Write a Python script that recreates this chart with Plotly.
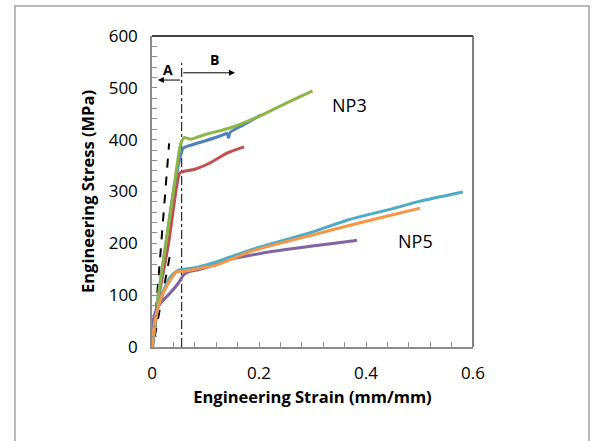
import plotly.graph_objects as go

# ---- data ----
np3_green_x = [0, 0.004, 0.012, 0.026, 0.04, 0.052, 0.056, 0.06, 0.065, 0.072, 0.1, 0.15, 0.2, 0.25, 0.3]
np3_green_y = [0, 30, 100, 200, 300, 385, 398, 404, 403, 401, 410, 424, 445, 470, 494]
np3_blue_x = [0, 0.004, 0.012, 0.026, 0.04, 0.054, 0.058, 0.065, 0.084, 0.1, 0.13, 0.14, 0.143, 0.146, 0.17, 0.204]
np3_blue_y = [0, 30, 100, 200, 300, 372, 383, 387, 393, 398, 408, 412, 404, 414, 428, 448]
np3_red_x = [0, 0.005, 0.015, 0.031, 0.046, 0.052, 0.06, 0.08, 0.108, 0.14, 0.172]
np3_red_y = [0, 35, 110, 200, 309, 336, 339, 343, 355, 374, 386]

np5_teal_x = [0, 0.004, 0.01, 0.018, 0.034, 0.046, 0.052, 0.06, 0.08, 0.1, 0.12, 0.15, 0.183, 0.25, 0.3, 0.366, 0.45, 0.5, 0.581]
np5_teal_y = [0, 40, 72, 100, 135, 146, 149, 150, 153, 158, 164, 175, 187, 207, 222, 245, 267, 281, 299]
np5_orange_x = [0, 0.004, 0.01, 0.018, 0.034, 0.046, 0.06, 0.09, 0.12, 0.15, 0.183, 0.25, 0.3, 0.37, 0.45, 0.501]
np5_orange_y = [0, 40, 70, 97, 129, 145, 146, 152, 158, 170, 184, 203, 216, 235, 255, 268]
np5_purple_x = [0, 0.0025, 0.008, 0.018, 0.034, 0.049, 0.059, 0.068, 0.09, 0.12, 0.15, 0.2, 0.25, 0.3, 0.37, 0.383]
np5_purple_y = [0, 52, 72, 87, 104, 123, 139, 145, 150, 160, 170, 180, 188, 195, 204, 206]

dash1_x = [0.002, 0.032]
dash1_y = [0, 393]
dash2_x = [0.005, 0.035]
dash2_y = [20, 185]
boundary_x = [0.0555, 0.0555]
boundary_y = [0, 548]

x_ticks = [0, 0.2, 0.4, 0.6]
x_ticklabels = ["0", "0.2", "0.4", "0.6"]
y_ticks = [0, 100, 200, 300, 400, 500, 600]

FONT = "Open Sans"

fig = go.Figure()

def add_line(x, y, color, width=3, dash=None, shape="linear"):
    fig.add_trace(go.Scatter(x=x, y=y, mode="lines",
                             line=dict(color=color, width=width, dash=dash, shape=shape,
                                       smoothing=0.6 if shape == "spline" else None),
                             showlegend=False, hoverinfo="skip"))

add_line(dash1_x, dash1_y, "black", 2, "dash")
add_line(dash2_x, dash2_y, "black", 2, "dash")
add_line(boundary_x, boundary_y, "black", 1, "dashdot")

add_line(np3_red_x, np3_red_y, "#C0504D", shape="spline")
add_line(np3_blue_x, np3_blue_y, "#4F81BD", shape="spline")
add_line(np3_green_x, np3_green_y, "#8DB548", shape="spline")
add_line(np5_purple_x, np5_purple_y, "#8064A2", shape="spline")
add_line(np5_teal_x, np5_teal_y, "#4BACC6", shape="spline")
add_line(np5_orange_x, np5_orange_y, "#F79646", shape="spline")

# arrows A and B
fig.add_annotation(x=0.011, y=515, ax=0.0555, ay=515, xref="x", yref="y", axref="x", ayref="y",
                   text="", showarrow=True, arrowhead=2, arrowsize=1.2, arrowwidth=1, arrowcolor="black")
fig.add_annotation(x=0.155, y=529, ax=0.0555, ay=529, xref="x", yref="y", axref="x", ayref="y",
                   text="", showarrow=True, arrowhead=2, arrowsize=1.2, arrowwidth=1, arrowcolor="black")
fig.add_annotation(x=0.030, y=536, text="<b>A</b>", showarrow=False,
                   font=dict(family=FONT, size=14, color="black"))
fig.add_annotation(x=0.116, y=554, text="<b>B</b>", showarrow=False,
                   font=dict(family=FONT, size=14, color="black"))
fig.add_annotation(x=0.37, y=467, text="NP3", showarrow=False,
                   font=dict(family=FONT, size=18, color="black"))
fig.add_annotation(x=0.4916, y=204, text="NP5", showarrow=False,
                   font=dict(family=FONT, size=18, color="black"))

# top and right frame lines, outer border
fig.add_shape(type="line", xref="paper", yref="paper", x0=0, x1=1, y0=1, y1=1,
              line=dict(color="black", width=1.5))
fig.add_shape(type="line", xref="paper", yref="paper", x0=1, x1=1, y0=0, y1=1,
              line=dict(color="#555555", width=1.5))
fig.add_shape(type="rect", xref="paper", yref="paper", x0=-0.4268, x1=1.3614, y0=-0.33, y1=1.0965,
              line=dict(color="#A0A0A0", width=1.5))

fig.update_layout(
    width=596, height=441,
    margin=dict(l=152, r=123, t=36, b=94),
    paper_bgcolor="white", plot_bgcolor="white",
    font=dict(family=FONT, color="black"),
    xaxis=dict(range=[0, 0.6], tickvals=x_ticks, ticktext=x_ticklabels,
               showgrid=False, zeroline=False, showline=True, linecolor="#8C8C8C", linewidth=1.5,
               ticks="inside", ticklen=5, tickcolor="#8C8C8C", ticklabelstandoff=10,
               minor=dict(dtick=0.04, ticks="inside", ticklen=5, tickcolor="#8C8C8C"),
               tickfont=dict(family=FONT, size=17, color="black"),
               title=dict(text="<b>Engineering Strain (mm/mm)</b>", font=dict(family=FONT, size=16.5), standoff=8)),
    yaxis=dict(range=[0, 600], tickvals=y_ticks,
               showgrid=False, zeroline=False, showline=True, linecolor="#8C8C8C", linewidth=1.5,
               ticks="inside", ticklen=5, tickcolor="#8C8C8C", ticklabelstandoff=9,
               minor=dict(dtick=20, ticks="inside", ticklen=5, tickcolor="#8C8C8C"),
               tickfont=dict(family=FONT, size=17, color="black"),
               title=dict(text="<b>Engineering Stress (MPa)</b>", font=dict(family=FONT, size=16.5), standoff=10)),
)

fig.write_html("out.html")
